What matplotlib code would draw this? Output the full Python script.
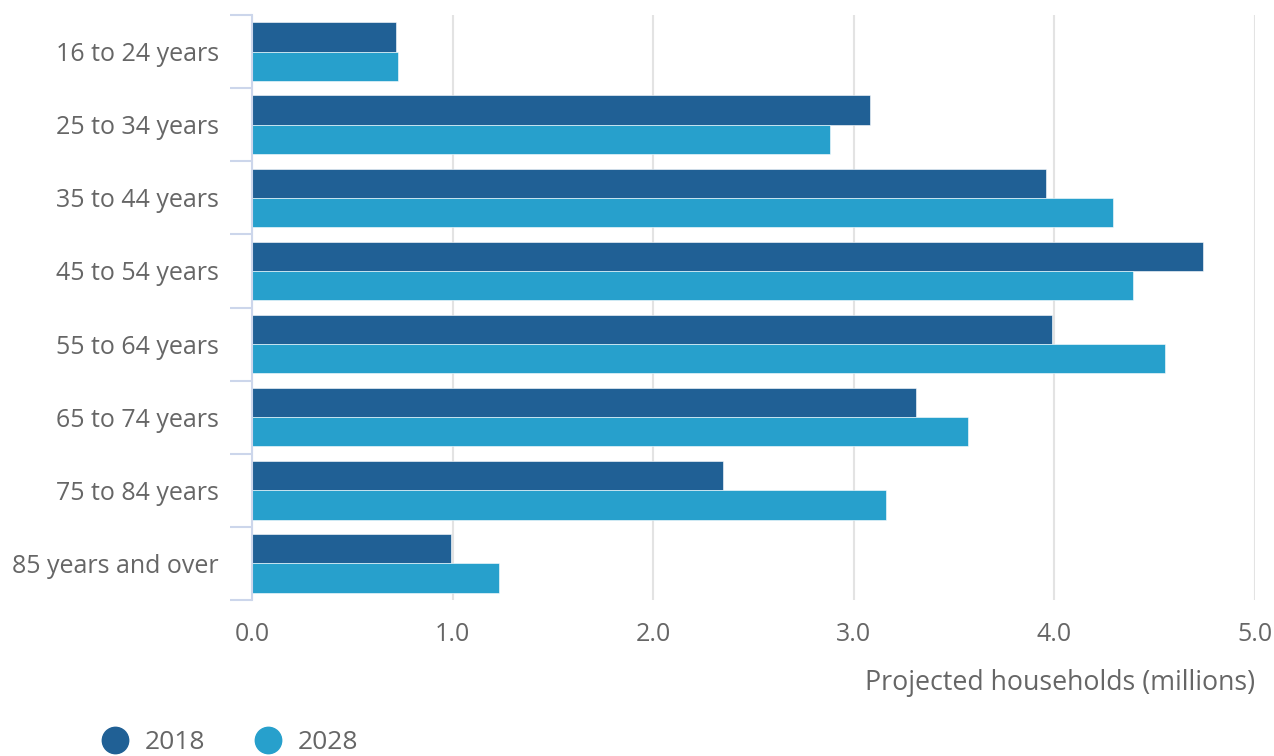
import matplotlib.pyplot as plt
import numpy as np
from matplotlib.lines import Line2D

plt.rcParams['font.family'] = ['Open Sans', 'DejaVu Sans']

# households by age of household reference person, millions
age_groups = ['16 to 24 years', '25 to 34 years', '35 to 44 years', '45 to 54 years',
              '55 to 64 years', '65 to 74 years', '75 to 84 years', '85 years and over']
households_2018 = [0.72, 3.08, 3.96, 4.74, 3.99, 3.31, 2.35, 0.99]
households_2028 = [0.73, 2.88, 4.29, 4.39, 4.55, 3.57, 3.16, 1.23]
x_ticks = [0.0, 1.0, 2.0, 3.0, 4.0, 5.0]

dark_blue = '#206095'
light_blue = '#27a0cc'
text_grey = '#666666'
axis_col = '#ccd6eb'

fig = plt.figure(figsize=(12.74, 7.56), dpi=100)
ax = fig.add_axes([252 / 1274, 1 - 600 / 756, (1255 - 252) / 1274, 585 / 756])

y = np.arange(len(age_groups))
h = 0.4
ax.barh(y - h / 2, households_2018, height=h, color=dark_blue, edgecolor='#ffffff', linewidth=0.4, zorder=3)
ax.barh(y + h / 2, households_2028, height=h, color=light_blue, edgecolor='#ffffff', linewidth=0.4, zorder=3)

ax.set_xlim(0, 5.0)
ax.set_ylim(len(age_groups) - 0.5, -0.5)

# vertical grid lines
ax.set_xticks(x_ticks)
ax.set_xticklabels([f'{v:.1f}' for v in x_ticks])
ax.grid(axis='x', color='#e3e3e3', linewidth=1.5, zorder=0)
ax.tick_params(axis='x', length=0, pad=16, labelsize=18, labelcolor=text_grey)

# category labels, with tick marks between the groups
ax.set_yticks(y)
ax.set_yticklabels(age_groups)
ax.set_yticks(np.arange(-0.5, len(age_groups)), minor=True)
ax.tick_params(axis='y', which='major', length=0, pad=24, labelsize=18, labelcolor=text_grey)
ax.tick_params(axis='y', which='minor', length=16, width=1.5, color=axis_col)

for side in ['top', 'right', 'bottom']:
    ax.spines[side].set_visible(False)
ax.spines['left'].set_color(axis_col)
ax.spines['left'].set_linewidth(1.5)
ax.spines['left'].set_zorder(4)

ax.set_xlabel('Projected households (millions)', loc='right', fontsize=19.3,
              color=text_grey, labelpad=16)

handles = [Line2D([], [], marker='o', linestyle='', markersize=19, color=dark_blue),
           Line2D([], [], marker='o', linestyle='', markersize=19, color=light_blue)]
fig.legend(handles, ['2018', '2028'], loc='center left', bbox_to_anchor=(0.0613, 0.018),
           ncol=2, frameon=False, fontsize=19, labelcolor=text_grey,
           handletextpad=0.12, columnspacing=1.38, borderaxespad=0)

fig.savefig('out.png', dpi=100)
